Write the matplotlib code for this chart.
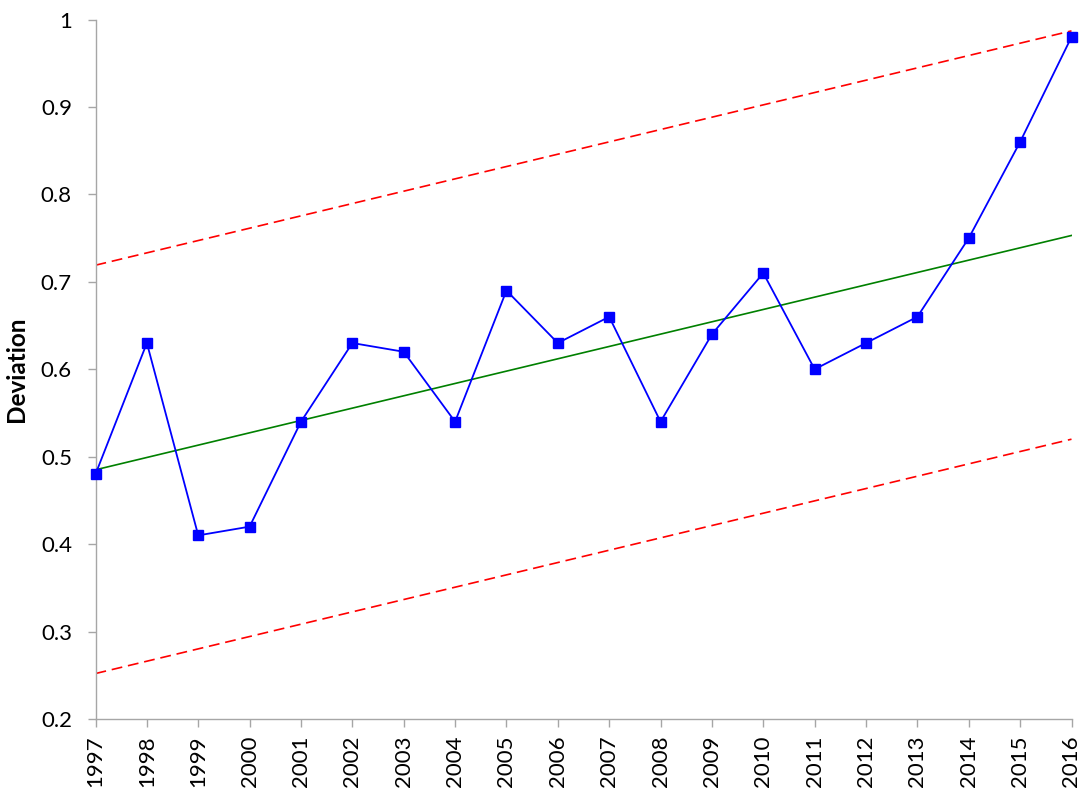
import matplotlib
matplotlib.use("Agg")
import matplotlib.pyplot as plt

years = [str(y) for y in range(1997, 2017)]
deviation = [0.48, 0.63, 0.41, 0.42, 0.54, 0.63, 0.62, 0.54, 0.69, 0.63,
             0.66, 0.54, 0.64, 0.71, 0.60, 0.63, 0.66, 0.75, 0.86, 0.98]

# Trend line and upper/lower bands, given at the first and last year
trend_ends = [0.485, 0.753]
upper_ends = [0.719, 0.987]
lower_ends = [0.252, 0.520]

plt.rcParams['font.family'] = ['Lato', 'DejaVu Sans']

fig = plt.figure(figsize=(10.86, 7.91), dpi=100)
ax = fig.add_axes([95.5 / 1086, 1 - 719 / 791, (1071.5 - 95.5) / 1086, (719 - 19.5) / 791])

x = list(range(len(years)))
ends_x = [x[0], x[-1]]

ax.plot(ends_x, upper_ends, color='#ff0000', lw=1.2, dashes=(6.5, 3.5), zorder=2)
ax.plot(ends_x, lower_ends, color='#ff0000', lw=1.2, dashes=(6.5, 3.5), zorder=2)
ax.plot(ends_x, trend_ends, color='#008000', lw=1.2, zorder=3)
ax.plot(x, deviation, color='#0000ff', lw=1.3, marker='s', markersize=7,
        markerfacecolor='#0000ff', markeredgecolor='#0000ff', zorder=4, clip_on=False)

ax.set_xlim(0, len(years) - 1)
ax.set_ylim(0.2, 1.0)
ax.set_xticks(x)
ax.set_xticklabels(years, rotation=90, fontsize=16)
ax.set_yticks([0.2, 0.3, 0.4, 0.5, 0.6, 0.7, 0.8, 0.9, 1.0])
ax.set_yticklabels(['0.2', '0.3', '0.4', '0.5', '0.6', '0.7', '0.8', '0.9', '1'], fontsize=16)

for side in ('top', 'right'):
    ax.spines[side].set_visible(False)
for side in ('left', 'bottom'):
    ax.spines[side].set_color('#a6a6a6')
    ax.spines[side].set_linewidth(1.0)
ax.tick_params(axis='both', direction='out', length=6, width=1.0, color='#a6a6a6',
               labelcolor='black')
ax.tick_params(axis='y', pad=11)
ax.tick_params(axis='x', pad=6)

ax.set_ylabel('Deviation', fontsize=17.5, fontweight='bold')
ax.yaxis.set_label_coords(-0.0695, 0.5)

fig.savefig('out.png', dpi=100)
